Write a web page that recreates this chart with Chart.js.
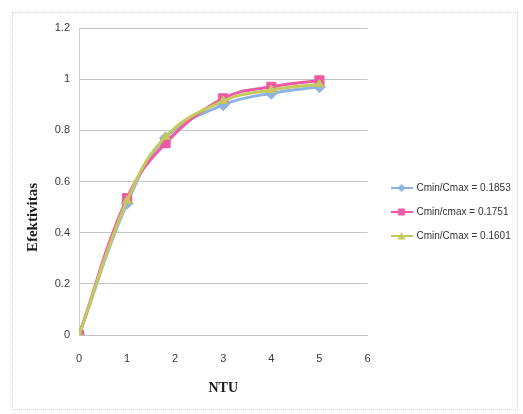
<!DOCTYPE html>
<html>
<head>
<meta charset="utf-8">
<title>Efektivitas vs NTU</title>
<script src="https://cdn.jsdelivr.net/npm/chart.js@4/dist/chart.umd.min.js"></script>
<style>
  html, body { margin: 0; padding: 0; background: #ffffff; }
  #wrap { position: relative; width: 523px; height: 414px; overflow: hidden; }
  #frame { position: absolute; left: 12px; top: 12px; width: 506px; height: 398px;
           border: 1px dotted #cfcfcf; box-sizing: border-box; }
  #c { position: absolute; left: 0; top: 0; }
</style>
</head>
<body>
<div id="wrap">
  <div id="frame"></div>
  <canvas id="c" width="523" height="414"></canvas>
</div>
<script>
// NTU values on the horizontal axis
const ntu = [0, 1, 1.8, 3, 4, 5];

// Effectiveness for each capacity ratio
const eff1853 = [0, 0.515, 0.77, 0.90, 0.945, 0.97];
const eff1751 = [0, 0.535, 0.75, 0.925, 0.97, 0.995];
const eff1601 = [0, 0.525, 0.775, 0.915, 0.958, 0.98];

const seriesNames = ['Cmin/Cmax = 0.1853', 'Cmin/cmax = 0.1751', 'Cmin/Cmax = 0.1601'];

// Axis tick labels
const xTicks = [0, 1, 2, 3, 4, 5, 6];
const yTicks = [0, 0.2, 0.4, 0.6, 0.8, 1, 1.2];

const xTitle = 'NTU';
const yTitle = 'Efektivitas';

// Series styling (Excel-like palette)
const colors = ['#8db3e2', '#ec5ba3', '#c5c95c'];
const shapes = ['rectRot', 'rect', 'triangle'];
const radii = [6, 6.5, 5];

// Small line-with-marker swatch used as the legend symbol
function legendIcon(color, shape) {
  const c = document.createElement('canvas');
  c.width = 22; c.height = 10;
  const g = c.getContext('2d');
  g.strokeStyle = color;
  g.fillStyle = color;
  g.lineWidth = 2;
  g.beginPath(); g.moveTo(0, 5); g.lineTo(22, 5); g.stroke();
  g.beginPath();
  if (shape === 'rect') {
    g.rect(7.5, 1.5, 7, 7);
  } else if (shape === 'rectRot') {
    g.moveTo(11, 1); g.lineTo(15, 5); g.lineTo(11, 9); g.lineTo(7, 5); g.closePath();
  } else {
    g.moveTo(11, 1); g.lineTo(15, 8.5); g.lineTo(7, 8.5); g.closePath();
  }
  g.fill();
  return c;
}
const icons = colors.map((c, i) => legendIcon(c, shapes[i]));

function makeSeries(i, values) {
  return {
    label: seriesNames[i],
    data: ntu.map((x, k) => ({ x: x, y: values[k] })),
    showLine: true,
    tension: 0.4,
    borderColor: colors[i],
    backgroundColor: colors[i],
    borderWidth: 3,
    pointStyle: shapes[i],
    pointRadius: radii[i],
    pointBorderWidth: 1,
    pointBorderColor: colors[i],
    pointBackgroundColor: colors[i],
    order: 3 - i
  };
}

// Places the legend block beside the plot, letting it run to the canvas edge
const legendPlacement = {
  id: 'legendPlacement',
  afterLayout(chart) {
    const L = chart.legend;
    if (!L) return;
    const dx = 10, dy = -9;
    L.left += dx;
    L.right = chart.width;
    L.top += dy; L.bottom += dy;
  }
};

// Vertical axis title
const verticalTitle = {
  id: 'verticalTitle',
  afterDraw(chart) {
    const a = chart.chartArea;
    const g = chart.ctx;
    g.save();
    g.translate(a.left - 46, (a.top + a.bottom) / 2 + 36);
    g.rotate(-Math.PI / 2);
    g.font = 'bold 15px "Liberation Serif", "Times New Roman", serif';
    g.fillStyle = '#1a1a1a';
    g.textAlign = 'center';
    g.textBaseline = 'middle';
    g.fillText(yTitle, 0, 0);
    g.restore();
  }
};

Chart.defaults.font.family = '"Liberation Sans", Arial, sans-serif';
Chart.defaults.color = '#3a3a3a';

new Chart(document.getElementById('c'), {
  type: 'scatter',
  data: {
    datasets: [
      makeSeries(0, eff1853),
      makeSeries(1, eff1751),
      makeSeries(2, eff1601)
    ]
  },
  options: {
    responsive: false,
    animation: false,
    devicePixelRatio: 1,
    layout: { padding: { top: 28, right: 33, bottom: 0, left: 0 } },
    plugins: {
      tooltip: { enabled: false },
      legend: {
        position: 'right',
        align: 'center',
        labels: {
          usePointStyle: true,
          pointStyleWidth: 20,
          padding: 14,
          font: { size: 10 },
          color: '#333333',
          sort: (a, b) => a.datasetIndex - b.datasetIndex,
          generateLabels(chart) {
            const items = Chart.defaults.plugins.legend.labels.generateLabels(chart);
            items.forEach(it => { it.pointStyle = icons[it.datasetIndex]; });
            return items;
          }
        }
      }
    },
    scales: {
      x: {
        type: 'linear',
        min: xTicks[0],
        max: xTicks[xTicks.length - 1],
        afterBuildTicks(s) { s.ticks = xTicks.map(v => ({ value: v })); },
        afterFit(s) { s.height = 79; },
        grid: { display: false, drawTicks: false },
        border: { display: true, color: '#c4c4c4', width: 1 },
        ticks: { padding: 17, font: { size: 11 }, color: '#3a3a3a', callback: v => String(v) },
        title: {
          display: true,
          text: xTitle,
          font: { family: '"Liberation Serif", "Times New Roman", serif', size: 14, weight: 'bold' },
          color: '#1a1a1a',
          padding: { top: 0, bottom: 17 }
        }
      },
      y: {
        type: 'linear',
        min: yTicks[0],
        max: yTicks[yTicks.length - 1],
        afterBuildTicks(s) { s.ticks = yTicks.map(v => ({ value: v })); },
        afterFit(s) { s.width = 79; },
        grid: { color: '#c4c4c4', drawTicks: false },
        border: { display: true, color: '#cfcfcf', width: 1 },
        ticks: { padding: 9, font: { size: 11 }, color: '#3a3a3a', callback: v => String(v) }
      }
    }
  },
  plugins: [legendPlacement, verticalTitle]
});
</script>
</body>
</html>
